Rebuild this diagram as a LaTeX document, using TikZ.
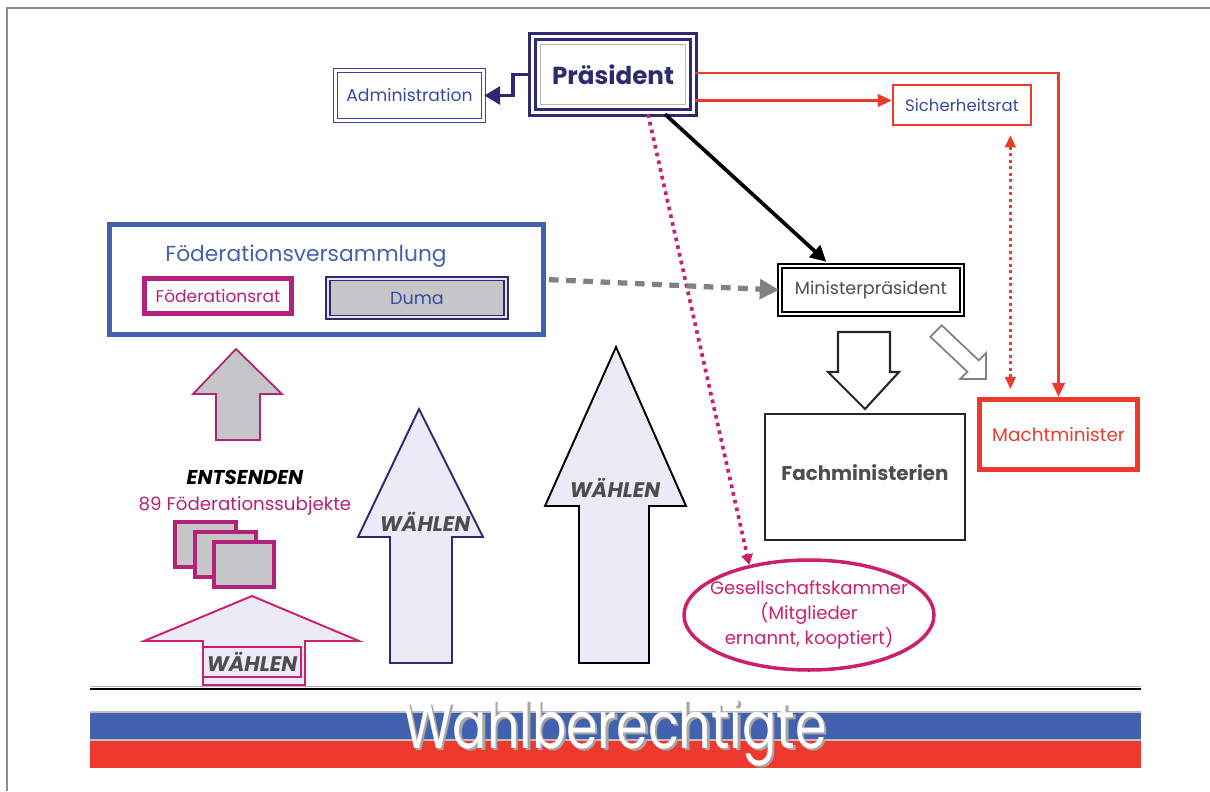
\documentclass[tikz,border=0pt]{standalone}
\usepackage{fontspec}
\setmainfont{Poppins}
\newfontfamily\flagfont[FakeStretch=0.78]{Poppins}
\usetikzlibrary{arrows.meta}
\usetikzlibrary{calc}
\usetikzlibrary{shapes.geometric}
\usepackage{xcolor}

\definecolor{praesnavy}{HTML}{2E2A72}
\definecolor{adminblue}{HTML}{3A4A9E}
\definecolor{fedblue}{HTML}{4261AE}
\definecolor{ratmagenta}{HTML}{B3227A}
\definecolor{kammerpink}{HTML}{CC1F6C}
\definecolor{machtred}{HTML}{EE3A2E}
\definecolor{boxgray}{HTML}{C4C6C8}
\definecolor{arrowlav}{HTML}{ECEAF6}
\definecolor{textgray}{HTML}{4D4D4F}
\definecolor{dotgray}{HTML}{808285}
\definecolor{framegray}{HTML}{8C8C8C}

\begin{document}
\begin{tikzpicture}[x=0.02cm, y=-0.02cm,
        box/.style={draw, inner sep=0pt, align=center},
        praesbox/.style={box, draw=praesnavy, line width=1.9pt, double=white, double distance=1.4pt,
          minimum width=3.22cm, minimum height=1.52cm, text=praesnavy, font=\fontsize{14}{16}\selectfont\bfseries},
        adminbox/.style={box, draw=adminblue, line width=0.8pt, double=white, double distance=1.2pt,
          minimum width=2.96cm, minimum height=1.0cm, text=adminblue, font=\fontsize{9.8}{12}\selectfont},
        sicherbox/.style={box, draw=machtred, line width=1.3pt, minimum width=2.76cm, minimum height=0.8cm,
          text=adminblue, font=\fontsize{9.4}{12}\selectfont},
        minprbox/.style={box, draw=black, line width=1pt, double=white, double distance=1.5pt,
          minimum width=3.64cm, minimum height=0.96cm, text=textgray, font=\fontsize{10}{12}\selectfont},
        machtbox/.style={box, draw=machtred, line width=2.8pt, minimum width=3.16cm, minimum height=1.4cm,
          text=machtred, font=\fontsize{10.5}{12}\selectfont},
        fachbox/.style={box, draw=black!85, line width=1.3pt, minimum width=4.0cm, minimum height=2.52cm},
        kammer/.style={draw=kammerpink, line width=2pt, ellipse, inner sep=0pt, minimum width=5.0cm, minimum height=2.2cm},
        kammertext/.style={align=center, text=kammerpink, font=\fontsize{10.3}{14}\selectfont},
        fedbox/.style={box, draw=fedblue, line width=2.8pt, minimum width=8.68cm, minimum height=2.2cm},
        ratbox/.style={box, draw=ratmagenta, line width=2.5pt, minimum width=2.94cm, minimum height=0.7cm,
          text=ratmagenta, font=\fontsize{9.7}{12}\selectfont},
        dumabox/.style={box, draw=praesnavy, fill=boxgray, line width=0.9pt, double=boxgray!45, double distance=1.3pt,
          minimum width=3.56cm, minimum height=0.77cm, text=adminblue, font=\fontsize{10}{12}\selectfont},
        subjbox/.style={box, draw=ratmagenta, fill=boxgray, line width=2.5pt, minimum width=1.21cm, minimum height=0.89cm},
        waehlen/.style={text=textgray, font=\fontsize{12}{14}\selectfont\bfseries\itshape},
        blockup/.style={fill=arrowlav, line width=1.1pt, line join=miter},
        redline/.style={draw=machtred, line width=1.7pt}]

        \useasboundingbox (0,0) rectangle (1210,791);
        \draw[framegray, line width=1.2pt] (7,791) -- (7,8) -- (1210,8);

        % top: president and the bodies round him
        \node[praesbox] (praes) at (613,74.5) {Präsident};
        \node[adminbox] (admin) at (409.5,95.5) {Administration};
        \node[sicherbox] (sicher) at (962,105) {Sicherheitsrat};
        \draw[gray!55, line width=0.6pt] ([shift={(0.2cm,-0.2cm)}]praes.north west) rectangle ([shift={(-0.2cm,0.2cm)}]praes.south east);

        \node[minprbox] (minpr) at (871,290) {Ministerpräsident};
        \node[machtbox] (macht) at (1058.5,434.5) {Machtminister};
        \node[fachbox] (fach) at (865,477) {};
        \node[text=textgray, font=\fontsize{11.3}{13}\selectfont\bfseries] (fachText) at (865,473) {Fachministerien};

        \node[kammer] (gesell) at (809,615) {};
        \node[kammertext] (gesellText) at (809,615) {Gesellschaftskammer\\(Mitglieder\\ernannt, kooptiert)};

        % parliament
        \node[fedbox] (fedv) at (326.5,279.5) {};
        \node[text=fedblue, font=\fontsize{12.4}{14}\selectfont] (fedtitle) at (306,256) {Föderationsversammlung};
        \node[ratbox] (fedrat) at (218,296) {Föderationsrat};
        \node[dumabox] (duma) at (417,298) {Duma};

        % federal subjects
        \draw[fill=boxgray, draw=ratmagenta, line width=1pt] (236,349) -- (282,394) -- (260,394) -- (260,440)
          -- (216,440) -- (216,394) -- (193,394) -- cycle;
        \node[font=\fontsize{11.4}{13}\selectfont\bfseries\itshape] (entsenden) at (245,477) {ENTSENDEN};
        \node[text=ratmagenta, font=\fontsize{10.4}{12}\selectfont] (subj) at (245,506) {89 Föderationssubjekte};
        \node[subjbox] (sub1) at (205.5,544.5) {};
        \node[subjbox] (sub2) at (225.5,554.5) {};
        \node[subjbox] (sub3) at (244,564.5) {};

        % elections
        \draw[blockup, draw=kammerpink] (252,596) -- (359,641) -- (305,641) -- (305,685) -- (203,685)
          -- (203,641) -- (144,641) -- cycle;
        \node[waehlen, draw=kammerpink, line width=0.6pt, minimum width=1.96cm, minimum height=0.6cm, inner sep=0pt] (waehlenA) at (252,662) {WÄHLEN};
        \draw[blockup, draw=praesnavy] (419,409) -- (483,537) -- (452,537) -- (452,663) -- (390,663)
          -- (390,537) -- (358,537) -- cycle;
        \node[waehlen] (waehlenB) at (425,522) {WÄHLEN};
        \draw[blockup, draw=black] (616,347) -- (686,506) -- (649,506) -- (649,663) -- (579,663)
          -- (579,506) -- (545,506) -- cycle;
        \node[waehlen] (waehlenC) at (615,488) {WÄHLEN};

        % government arrows
        \draw[fill=white, draw=black!85, line width=1.2pt] (838,332) -- (890,332) -- (890,372) -- (899,372)
          -- (865,409) -- (828,372) -- (838,372) -- cycle;
        \draw[fill=white, draw=dotgray, line width=1pt] (941.7,325.3) -- (978.7,360.3) -- (986,353) -- (986,379)
          -- (960,379) -- (967.3,371.7) -- (930.3,336.7) -- cycle;

        % connectors
        \draw[praesnavy, line width=2.2pt, -{Triangle[length=9pt,width=10pt]}]
          (praes.west) -- ++(-18,0) |- (admin.east);
        \draw[redline, -{Triangle[length=8pt,width=7pt]}] ([yshift=0.03cm]praes.east) -| (macht.north);
        \coordinate (r2) at ([yshift=-0.52cm]praes.east);
        \draw[redline, -{Triangle[length=8pt,width=7pt]}] (r2) -- (r2 -| sicher.west);
        \draw[machtred, line width=1.7pt, dash pattern=on 1.8pt off 1.9pt, {Triangle[length=7pt,width=6pt]}-{Triangle[length=7pt,width=6pt]},
          shorten <=0.18cm, shorten >=0.16cm]
          ($(sicher.south east)!0.31!(sicher.south)$) coordinate (sr) -- (sr |- macht.north);
        \draw[black, line width=2.1pt, -{Triangle[length=9pt,width=9pt]}, shorten >=0.1cm]
          ([xshift=1.04cm]praes.south) -- ([xshift=-0.82cm]minpr.north);
        \draw[kammerpink, line width=2.1pt, dash pattern=on 2.1pt off 2.4pt, -{Triangle[length=6pt,width=6.5pt]}]
          ([xshift=0.7cm]praes.south) -- (gesell.140);
        \draw[dotgray, line width=3pt, dash pattern=on 5.5pt off 4.3pt, -{Triangle[length=11pt,width=11pt]}, shorten <=0.06cm]
          (fedv.east) -- (minpr.west);

        % voters
        \fill[white] (90,689) rectangle (1141,712);
        \fill[fedblue] (90,712) rectangle (1141,740);
        \fill[machtred] (90,740) rectangle (1141,768);
        \draw[gray!50, line width=0.6pt] (90,712) -- (1141,712) (90,740) -- (1141,740);
        \draw[gray!60, line width=0.6pt] (90,686.5) -- (1141,686.5);
        \draw[black, line width=1.5pt] (90,689) -- (1141,689);
        \node[anchor=base, text=gray!70, font=\fontsize{37}{40}\flagfont] (wahlshadow) at (617.5,750.5) {Wahlberechtigte};
        \node[anchor=base, text=white, font=\fontsize{37}{40}\flagfont] (wahl) at (615,748) {Wahlberechtigte};

      \end{tikzpicture}
\end{document}
